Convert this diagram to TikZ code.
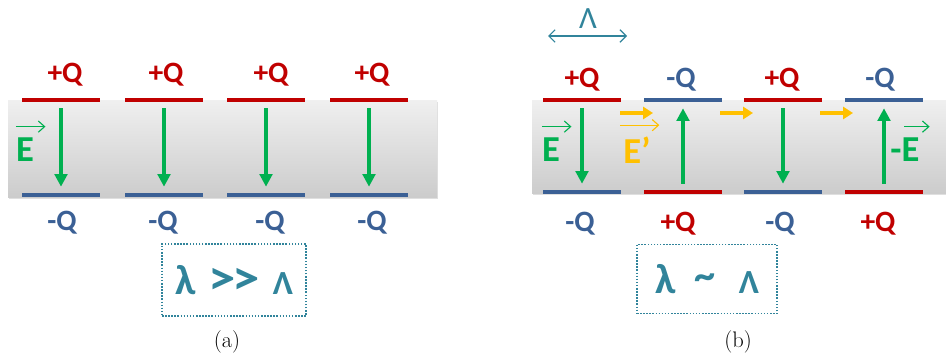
\documentclass[tikz,border=0pt]{standalone}
\usepackage{graphicx}
\usepackage{fontspec}
\newfontfamily\calib{Carlito}
\usetikzlibrary{arrows.meta,shadows}
\definecolor{darkRed}{HTML}{C00000}
\definecolor{plateBlue}{HTML}{3B6095}
\definecolor{fieldGreen}{HTML}{00B050}
\definecolor{fieldYellow}{HTML}{FFC000}
\definecolor{boxTeal}{HTML}{31849B}

\begin{document}
\begin{tikzpicture}[x=0.025cm,y=-0.025cm,
  every node/.style={font=\calib\bfseries\fontsize{21}{24}\selectfont,inner sep=0pt},
  band/.style={top color=gray!12,bottom color=gray!40,
               drop shadow={opacity=0.25,shadow xshift=1pt,shadow yshift=-1.5pt}},
  plus/.style={fill=darkRed,minimum width=1.95cm,minimum height=0.12cm},
  minus/.style={plus,fill=plateBlue},
  elbl/.style={font=\calib\bfseries\fontsize{26}{30}\selectfont},
  fld/.style={fieldGreen,line width=2.2pt,shorten <=4pt,shorten >=4pt,
              -{Triangle[length=9pt,width=9pt]}},
  push/.style={fieldYellow,line width=2.8pt,-{Triangle[length=7pt,width=8.5pt]}},
  vec/.style={line width=0.8pt,-{Straight Barb[length=4.5pt,width=8pt]}},
  lbox/.style={draw=boxTeal,line width=1.1pt,dash pattern=on 1.1pt off 1.1pt,
               text=boxTeal,font=\calib\bfseries\fontsize{30}{34}\selectfont}]
\useasboundingbox (0,0) rectangle (946,361);
% (a) lambda >> Lambda
\path[band] (8,100) rectangle (437,197);
\node[plus] (ta1) at (61,100) {};
\node[plus] (ta2) at (164,100) {};
\node[plus] (ta3) at (266,100) {};
\node[plus] (ta4) at (369,100) {};
\node[minus] (ba1) at (61,195) {};
\node[minus] (ba2) at (164,195) {};
\node[minus] (ba3) at (266,195) {};
\node[minus] (ba4) at (369,195) {};
\node[darkRed] (qa1) at (65,75) {+Q};
\node[darkRed] (qa2) at (166,75) {+Q};
\node[darkRed] (qa3) at (271,75) {+Q};
\node[darkRed] (qa4) at (372,75) {+Q};
\node[plateBlue] (ma1) at (62,223) {-Q};
\node[plateBlue] (ma2) at (163,223) {-Q};
\node[plateBlue] (ma3) at (270,223) {-Q};
\node[plateBlue] (ma4) at (372,223) {-Q};
\draw[fld] (ta1) -- (ba1); \draw[fld] (ta2) -- (ba2);
\draw[fld] (ta3) -- (ba3); \draw[fld] (ta4) -- (ba4);
\node[elbl,fieldGreen] (ea) at (25,150) {E};
\draw[vec,fieldGreen] ([yshift=8pt]ea.north west) -- ([xshift=8pt,yshift=8pt]ea.north east);
\node[lbox,minimum width=3.6cm,minimum height=1.8cm] (boxA) at (234,280)
  {λ\hspace{0.3em}\scalebox{1.3}[1.15]{>\kern-0.05em>}\hspace{0.3em}{\fontsize{24}{28}\selectfont Λ}};
\node[font=\fontsize{16}{19}\selectfont] (capA) at (227,342) {(a)};
% (b) lambda ~ Lambda
\node[boxTeal,font=\calib\fontsize{22}{26}\selectfont] (lam) at (588,19) {Λ};
\coordinate (lamL) at (548,36);
\coordinate (lamR) at (627,36);
\draw[vec,boxTeal,{Straight Barb[length=4.5pt,width=9pt]}-{Straight Barb[length=4.5pt,width=9pt]}] (lamL) -- (lamR);
\path[band] (532,100) rectangle (946,193);
\node[plus] (tb1) at (582,100) {};
\node[minus] (tb2) at (683,100) {};
\node[plus] (tb3) at (783,100) {};
\node[minus] (tb4) at (884,100) {};
\node[minus] (bb1) at (582,192) {};
\node[plus] (bb2) at (683,192) {};
\node[minus] (bb3) at (783,192) {};
\node[plus] (bb4) at (884,192) {};
\node[darkRed] (qb1) at (582,80) {+Q};
\node[plateBlue] (qb2) at (681,80) {-Q};
\node[darkRed] (qb3) at (782,80) {+Q};
\node[plateBlue] (qb4) at (880,80) {-Q};
\node[plateBlue] (mb1) at (580,224) {-Q};
\node[darkRed] (mb2) at (678,224) {+Q};
\node[plateBlue] (mb3) at (780,224) {-Q};
\node[darkRed] (mb4) at (878,224) {+Q};
\draw[fld] (tb1) -- (bb1); \draw[fld] (bb2) -- (tb2);
\draw[fld] (tb3) -- (bb3); \draw[fld] (bb4) -- (tb4);
\coordinate (ys1) at (620,113); \coordinate (ye1) at (653,113);
\coordinate (ys2) at (720,113); \coordinate (ye2) at (753,113);
\coordinate (ys3) at (820,113); \coordinate (ye3) at (853,113);
\draw[push] (ys1) -- (ye1); \draw[push] (ys2) -- (ye2); \draw[push] (ys3) -- (ye3);
\node[elbl,fieldGreen] (eb) at (551,150) {E};
\draw[vec,fieldGreen] ([yshift=8pt]eb.north west) -- ([xshift=8pt,yshift=8pt]eb.north east);
\node[elbl,fieldYellow] (ep) at (637,150) {E’};
\draw[vec,fieldYellow] ([xshift=-2pt,yshift=8pt]ep.north west) -- ([xshift=6pt,yshift=8pt]ep.north east);
\node[elbl,fieldGreen] (me) at (905,150) {-E};
\draw[vec,fieldGreen] ([xshift=-11pt,yshift=8pt]me.north east) -- ([xshift=7pt,yshift=8pt]me.north east);
\node[lbox,minimum width=3.5cm,minimum height=1.73cm] (boxB) at (707,279)
  {λ\hspace{0.45em}\raisebox{0.1em}{\textasciitilde}\hspace{0.55em}{\fontsize{24}{28}\selectfont Λ}};
\node[font=\fontsize{16}{19}\selectfont] (capB) at (738,342) {(b)};
\end{tikzpicture}
\end{document}
